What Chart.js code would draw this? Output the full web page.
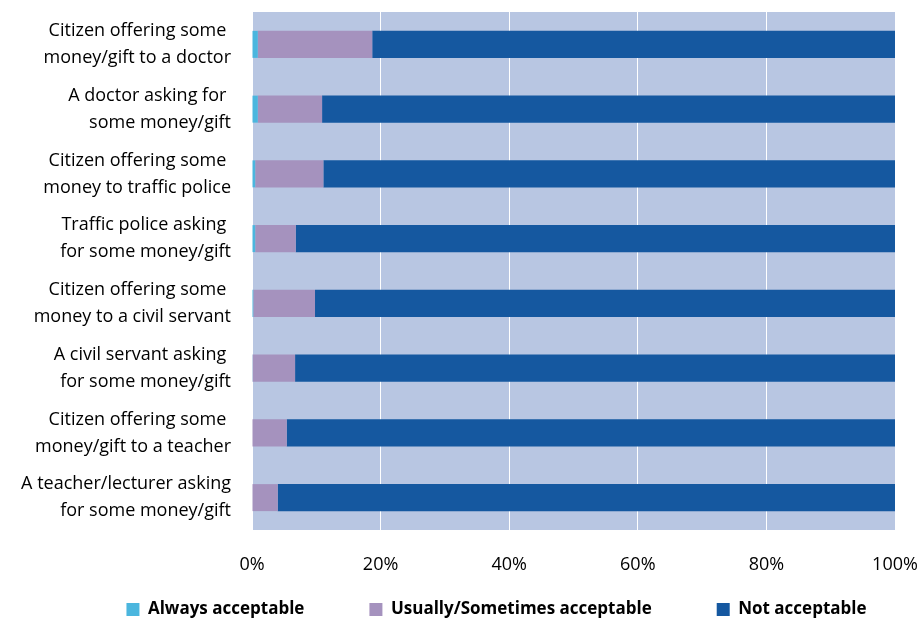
<!DOCTYPE html>
<html>
<head>
<meta charset="utf-8">
<script src="https://cdn.jsdelivr.net/npm/chart.js@4"></script>
<style>
  html, body { margin: 0; padding: 0; background: #fff; overflow: hidden; }
  #wrap { width: 922px; height: 618px; }
</style>
</head>
<body>
<div id="wrap"><canvas id="myChart" width="922" height="618"></canvas></div>
<script>
// Categories (top to bottom)
const categories = [
    ['Citizen offering some ', 'money/gift to a doctor'],
    ['A doctor asking for ', 'some money/gift'],
    ['Citizen offering some ', 'money to traffic police'],
    ['Traffic police asking ', 'for some money/gift'],
    ['Citizen offering some ', 'money to a civil servant'],
    ['A civil servant asking ', 'for some money/gift'],
    ['Citizen offering some ', 'money/gift to a teacher'],
    ['A teacher/lecturer asking', 'for some money/gift']
];

// Shares in percent
const alwaysAcceptable = [0.9, 0.9, 0.5, 0.5, 0.2, 0.1, 0, 0];
const usuallyAcceptable = [17.8, 10.0, 10.6, 6.3, 9.6, 6.6, 5.4, 4.0];
const notAcceptable = [81.3, 89.1, 88.9, 93.2, 90.2, 93.3, 94.6, 96.0];

const xTicks = [0, 20, 40, 60, 80, 100];

const font = "'Open Sans', Lato, sans-serif";

// fill the plot area, and nudge the legend / x labels into place
const plotBg = {
    id: 'plotBg',
    afterLayout(chart) {
        // let the x tick labels draw below the (thin) axis box
        chart.scales.x.bottom = chart.height;
        // legend sits a little right of centre like the original
        chart.legend.left += 49;
        chart.legend.right += 49;
    },
    beforeDraw(chart) {
        const a = chart.chartArea;
        const ctx = chart.ctx;
        ctx.save();
        ctx.fillStyle = '#b8c6e2';
        ctx.fillRect(a.left, a.top, a.right - a.left, a.bottom - a.top);
        ctx.restore();
    }
};

new Chart(document.getElementById('myChart'), {
    type: 'bar',
    data: {
        labels: categories,
        datasets: [
            { label: 'Always acceptable', data: alwaysAcceptable, backgroundColor: '#4bb6de' },
            { label: 'Usually/Sometimes acceptable', data: usuallyAcceptable, backgroundColor: '#a592be' },
            { label: 'Not acceptable', data: notAcceptable, backgroundColor: '#1558a0' }
        ]
    },
    options: {
        indexAxis: 'y',
        responsive: false,
        animation: false,
        barPercentage: 0.417,
        categoryPercentage: 1,
        layout: { padding: { left: 0, right: 27, top: 12, bottom: 0 } },
        scales: {
            x: {
                stacked: true,
                min: 0,
                max: 100,
                afterBuildTicks(scale) {
                    scale.ticks = xTicks.map(v => ({ value: v }));
                },
                afterFit(scale) {
                    scale.height = 6;
                    scale.paddingLeft = 0;
                    scale.paddingRight = 0;
                },
                ticks: {
                    callback: v => v + '%',
                    color: '#000',
                    maxRotation: 0,
                    font: { family: font, size: 18 },
                    padding: 24
                },
                grid: { color: '#ffffff', lineWidth: 1, drawTicks: false },
                border: { display: false }
            },
            y: {
                stacked: true,
                afterFit(scale) {
                    scale.width = 252;
                    scale.paddingTop = 0;
                    scale.paddingBottom = 0;
                },
                ticks: {
                    autoSkip: false,
                    color: '#000',
                    font: { family: font, size: 18, lineHeight: 1.5 },
                    padding: 21
                },
                grid: { display: false, drawTicks: false },
                border: { display: false }
            }
        },
        plugins: {
            legend: {
                position: 'bottom',
                maxHeight: 82,
                labels: {
                    boxWidth: 13,
                    boxHeight: 13,
                    padding: 65,
                    color: '#000',
                    font: { family: font, size: 17, weight: 'bold' }
                }
            },
            tooltip: { enabled: false }
        }
    },
    plugins: [plotBg]
});
</script>
</body>
</html>
